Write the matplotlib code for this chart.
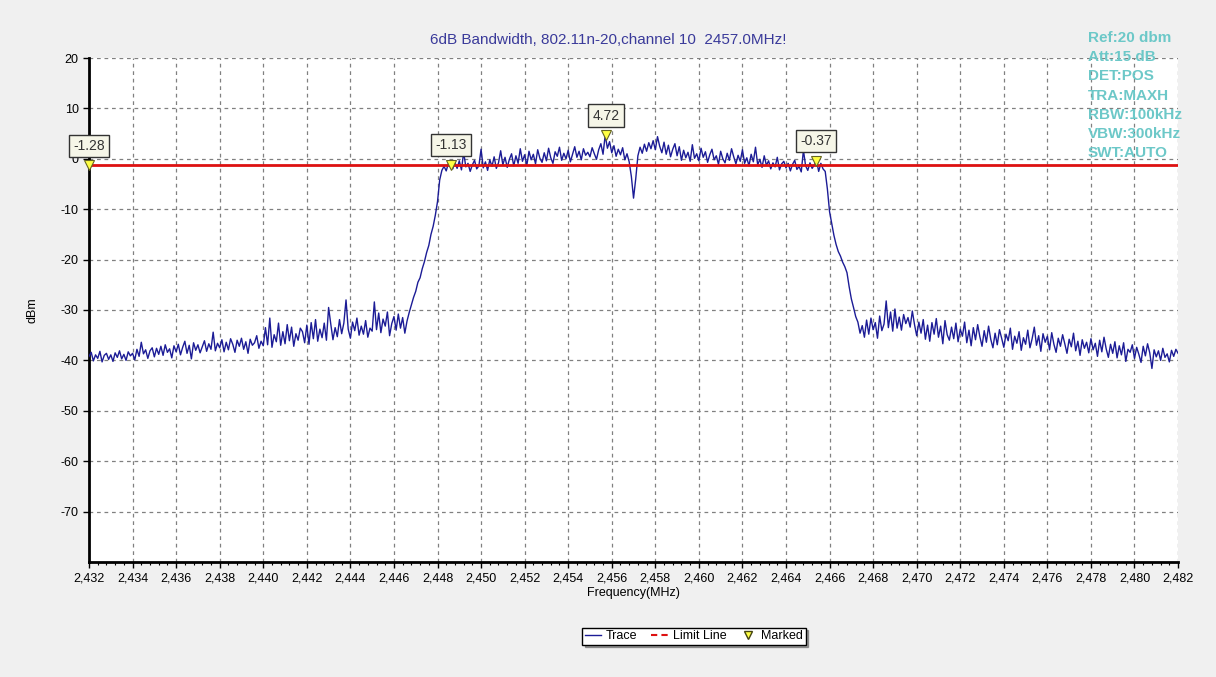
import numpy as np
import matplotlib
matplotlib.use('Agg')
import matplotlib.pyplot as plt
from matplotlib.ticker import FuncFormatter, MultipleLocator

plt.rcParams['font.family'] = ['Liberation Sans', 'DejaVu Sans']
plt.rcParams['axes.unicode_minus'] = False

# trace, one value every 0.1 MHz from 2432.0 to 2482.0
freq_start = 2432.0
freq_step = 0.1
trace = [
    # 2432 - 2445
    -39.2, -38.4, -40.1, -38.9, -39.6, -38.2, -40.3, -39.0, -38.6, -39.8,
    -38.9, -40.2, -38.5, -39.4, -38.1, -39.7, -38.8, -40.0, -38.3, -39.1,
    -38.6, -39.9, -37.8, -39.2, -36.4, -38.7, -37.9, -39.6, -38.1, -37.5,
    -39.3, -37.6, -38.8, -37.2, -39.0, -36.9, -38.4, -37.7, -39.5, -37.1,
    -38.3, -36.8, -38.9, -37.4, -36.2, -38.6, -37.0, -39.7, -36.5, -38.0,
    -36.9, -38.5, -37.3, -36.1, -38.2, -36.7, -37.8, -34.4, -38.1, -36.6,
    -37.5, -35.9, -38.3, -36.4, -37.9, -35.7, -36.8, -38.4, -36.0, -37.2,
    -35.6, -37.8, -36.3, -38.6, -35.8, -37.0, -36.5, -35.1, -37.6, -36.2,
    -37.1, -33.5, -36.9, -31.6, -37.4, -34.9, -36.3, -32.6, -37.0, -34.3,
    -36.7, -32.9, -36.1, -33.4, -37.2, -34.7, -36.0, -33.6, -34.3, -36.5,
    -33.0, -36.8, -32.5, -35.7, -31.9, -36.2, -33.8, -35.5, -32.6, -36.0,
    -29.5, -32.8, -35.9, -33.5, -35.3, -31.9, -34.7, -32.6, -28.0, -33.8,
    -35.6, -32.4, -34.1, -31.6, -35.0, -33.2, -34.8, -32.1, -35.4, -33.6,
    -34.2, -28.4, -33.9, -30.6, -34.5, -31.8, -33.2, -30.4, -35.1, -32.7,
    # 2446 - 2447 rising edge
    -31.3, -34.0, -30.8, -33.6, -31.5, -34.6, -32.2, -30.5, -29.0, -27.5,
    -26.3, -24.5, -23.6, -21.8, -20.4, -18.6, -17.2, -15.0, -13.4, -11.2,
    # 2448 - 2465 channel top
    -8.5, -4.2, -2.3, -1.5, -2.4, -0.9, -1.13, -2.0, -0.7, -1.9,
    -0.4, -2.2, 1.3, -1.6, -0.9, -2.5, -1.2, -0.3, -2.0, -1.4,
    1.9, -1.8, -0.6, -2.3, -0.2, -1.5, 0.4, -1.9, -0.8, 1.6,
    -1.2, 0.3, -1.7, -0.1, 1.0, -1.4, 0.6, -0.9, 2.0, -0.5,
    0.8, -1.3, 1.5, -0.2, 0.9, -1.0, 1.8, 0.1, -0.7, 1.2,
    -0.4, 2.1, 0.2, -0.9, 1.4, 0.5, 2.3, -0.3, 1.1, 0.0,
    1.7, -0.6, 0.9, 2.4, 0.3, 1.5, -0.2, 2.0, 0.7, 1.3,
    0.4, 2.2, 1.0, -0.1, 1.8, 3.0, 0.9, 4.72, 2.1, 3.4,
    1.2, 2.6, 0.5, 1.9, 0.8, 2.2, -0.2, 1.0, -0.6, -3.5,
    -7.8, -4.0, 0.6, 2.3, 1.1, 2.9, 1.5, 3.2, 2.0, 3.6,
    1.8, 4.4, 2.5, 1.2, 3.3, 0.9, 2.7, 0.4, 1.9, 3.0,
    0.6, 2.4, -0.3, 1.7, 0.2, 1.3, -0.5, 2.8, 0.1, 1.0,
    -0.4, 2.1, 0.3, 1.4, -0.7, 0.8, 1.9, -0.2, 0.6, -1.1,
    1.5, 0.0, -0.8, 1.1, -0.3, 2.0, 0.4, -1.0, 0.7, -0.5,
    1.8, -0.9, 0.2, -1.4, 0.9, -0.6, 2.3, -1.2, -0.1, -1.7,
    0.6, -1.3, -0.4, -2.0, -0.8, -1.6, 0.3, -2.2, -1.0, -0.5,
    -1.8, -0.9, -2.4, -1.1, -0.3, -2.1, -1.5, -2.6, 1.7, -1.4,
    -2.3, -0.8, -1.9, -1.2, -0.37, -2.5, -0.9, -2.0, -2.5, -6.0,
    # 2466 - 2467 falling edge
    -10.5, -12.8, -15.2, -17.0, -18.4, -19.3, -20.5, -21.4, -22.6, -25.4,
    -27.8, -29.5, -31.3, -32.4, -34.6, -33.1, -35.4, -32.0, -34.8, -31.6,
    # 2468 - 2482
    -33.9, -32.5, -35.6, -31.2, -34.1, -32.8, -28.2, -33.5, -30.4, -34.2,
    -29.8, -33.6, -31.4, -34.0, -30.9, -32.7, -31.5, -33.4, -30.2, -32.9,
    -35.1, -32.4, -34.6, -31.9, -35.8, -33.0, -36.2, -32.5, -34.8, -31.7,
    -35.4, -33.2, -36.7, -32.1, -34.9, -36.0, -33.4, -35.7, -32.6, -36.3,
    -33.8, -35.2, -32.4, -36.5, -34.0, -37.1, -33.5, -35.9, -32.9, -35.3,
    -37.2, -34.1, -36.4, -33.2, -35.8, -37.5, -34.6, -36.9, -33.9, -35.6,
    -37.4, -34.8, -36.1, -33.6, -37.8, -35.2, -36.6, -34.3, -38.0, -35.5,
    -36.8, -34.0, -37.5, -35.7, -33.4, -37.0, -35.1, -38.2, -34.7, -36.4,
    -35.2, -37.9, -34.5, -36.8, -38.4, -35.6, -37.2, -34.9, -36.7, -38.6,
    -35.8, -37.3, -34.6, -38.1, -36.2, -39.0, -35.9, -37.6, -36.4, -38.5,
    -35.7, -37.9, -36.6, -39.2, -36.0, -38.3, -35.4, -37.7, -39.4, -36.8,
    -38.6, -36.3, -39.5, -37.1, -38.9, -36.5, -40.2, -37.8, -38.4, -36.9,
    -39.6, -37.4, -38.8, -40.4, -37.2, -39.1, -36.7, -38.5, -41.6, -37.9,
    -39.3, -38.1, -40.0, -37.6, -39.4, -38.7, -40.3, -38.0, -39.2, -37.8,
    -38.6,
]
freq = freq_start + freq_step * np.arange(len(trace))

limit_level = -1.28
marker_freq = [2432.0, 2448.62, 2455.74, 2465.38]
marker_level = [-1.28, -1.13, 4.72, -0.37]

settings = ['Ref:20 dbm', 'Att:15 dB', 'DET:POS', 'TRA:MAXH',
            'RBW:100kHz', 'VBW:300kHz', 'SWT:AUTO']

fig = plt.figure(figsize=(12.16, 6.77), dpi=100, facecolor='#f0f0f0')
ax = fig.add_axes([0.0732, 0.1699, 0.8956, 0.7444])
ax.set_facecolor('white')

ax.plot(freq, trace, color='#1c1c96', lw=1.0, zorder=3)
ax.axhline(limit_level, color='#dd1111', lw=2, zorder=4)
ax.plot(marker_freq, marker_level, 'v', ms=7, mfc='#ffff44', mec='#666622',
        mew=0.8, ls='none', zorder=5, clip_on=False)

for mx, my in zip(marker_freq, marker_level):
    ax.annotate('%.2f' % my, (mx, my), xytext=(0, 14), textcoords='offset points',
                ha='center', va='center', fontsize=10, color='#333333', zorder=6,
                bbox=dict(boxstyle='square,pad=0.3', fc='#f6f6e8', ec='#333333', lw=1))

ax.set_xlim(2432, 2482)
ax.set_ylim(-80, 20)
ax.xaxis.set_major_locator(MultipleLocator(2))
ax.xaxis.set_minor_locator(MultipleLocator(0.4))
ax.xaxis.set_major_formatter(FuncFormatter(lambda v, p: '{:,.0f}'.format(v)))
ax.set_yticks(np.arange(-70, 21, 10))
ax.tick_params(axis='both', labelsize=9, colors='black', length=4, width=1)
ax.tick_params(axis='x', which='minor', length=2, width=0.8)
ax.grid(True, which='major', color='#808080', ls=(0, (3, 3)), lw=0.9)

for s in ['top', 'right']:
    ax.spines[s].set_visible(False)
for s in ['left', 'bottom']:
    ax.spines[s].set_linewidth(2)
    ax.spines[s].set_color('black')

ax.set_xlabel('Frequency(MHz)', fontsize=9, labelpad=2)
ax.set_ylabel('dBm', fontsize=9, labelpad=16)

fig.text(0.5, 1 - 40 / 677, '6dB Bandwidth, 802.11n-20,channel 10  2457.0MHz!',
         ha='center', va='center', fontsize=11, color='#3a3a9a')

for i, s in enumerate(settings):
    fig.text(1088 / 1216, 1 - (38 + 19.2 * i) / 677, s, ha='left', va='center',
             fontsize=11, fontweight='bold', color='#6cc8c8')

h_trace = plt.Line2D([], [], color='#1c1c96', lw=1)
h_limit = plt.Line2D([], [], color='#dd1111', lw=1.5, ls=(0, (3, 2)))
h_mark = plt.Line2D([], [], marker='v', ms=6, mfc='#ffff44', mec='#444411', ls='none')
leg = fig.legend([h_trace, h_limit, h_mark], ['Trace', 'Limit Line', 'Marked'],
                 loc='center', bbox_to_anchor=(694 / 1216, 1 - 636 / 677), ncol=3,
                 fontsize=9, frameon=True, fancybox=False, shadow=True,
                 edgecolor='black', framealpha=1, handlelength=1.3,
                 handletextpad=0.4, columnspacing=1.1, borderpad=0.2)
leg.get_frame().set_linewidth(1)

fig.savefig('out.png', dpi=100, facecolor=fig.get_facecolor())
